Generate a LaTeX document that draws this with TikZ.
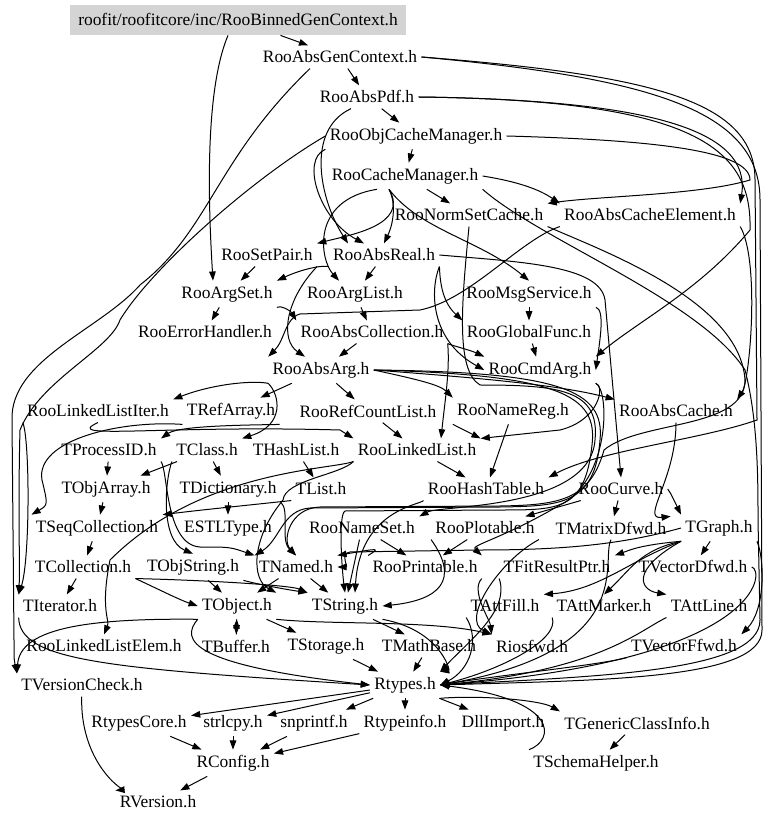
\documentclass[tikz,border=0pt]{standalone}
\usepackage{fontspec}
\setmainfont{Liberation Serif}
\usepackage{tikz}
\usetikzlibrary{arrows.meta}

\tikzset{
 hdr/.style={font=\fontsize{8.7pt}{10pt}\selectfont, inner xsep=2pt, inner ysep=2.5pt},
 rootbox/.style={hdr, fill=black!17, minimum width=168pt, minimum height=15pt},
 edge/.style={-{Triangle[length=4.6pt,width=3.3pt]}, line width=0.5pt}
}

\begin{document}
\begin{tikzpicture}[x=0.5pt,y=-0.5pt]
\useasboundingbox (0,0) rectangle (768,822);
% Reihe 1 bis 9
\node[rootbox] (root) at (238,20) {roofit/roofitcore/inc/RooBinnedGenContext.h};
\node[hdr] (gencx) at (340,57) {RooAbsGenContext.h};
\node[hdr] (abspdf) at (367,97) {RooAbsPdf.h};
\node[hdr] (objcache) at (416,136) {RooObjCacheManager.h};
\node[hdr] (cachemgr) at (405,176) {RooCacheManager.h};
\node[hdr] (normset) at (469,215) {RooNormSetCache.h};
\node[hdr] (abscelem) at (650,215) {RooAbsCacheElement.h};
\node[hdr] (setpair) at (267,255) {RooSetPair.h};
\node[hdr] (absreal) at (384,255) {RooAbsReal.h};
\node[hdr] (argset) at (227,294) {RooArgSet.h};
\node[hdr] (arglist) at (355,294) {RooArgList.h};
\node[hdr] (msgsvc) at (529,294) {RooMsgService.h};
\node[hdr] (errhandler) at (205,332) {RooErrorHandler.h};
\node[hdr] (abscoll) at (372,332) {RooAbsCollection.h};
\node[hdr] (globalfunc) at (529,332) {RooGlobalFunc.h};
\node[hdr] (absarg) at (321,370) {RooAbsArg.h};
\node[hdr] (cmdarg) at (540,370) {RooCmdArg.h};
% Reihe 10 bis 14
\node[hdr] (llistiter) at (98,411) {RooLinkedListIter.h};
\node[hdr] (trefarray) at (231,411) {TRefArray.h};
\node[hdr] (refcount) at (368,411) {RooRefCountList.h};
\node[hdr] (namereg) at (513,411) {RooNameReg.h};
\node[hdr] (abscache) at (676,411) {RooAbsCache.h};
\node[hdr] (tprocessid) at (109,450) {TProcessID.h};
\node[hdr] (tclass) at (207,450) {TClass.h};
\node[hdr] (thashlist) at (296,450) {THashList.h};
\node[hdr] (rlinkedlist) at (417,450) {RooLinkedList.h};
\node[hdr] (tobjarray) at (106,489) {TObjArray.h};
\node[hdr] (tdictionary) at (228,489) {TDictionary.h};
\node[hdr] (tlist) at (321,489) {TList.h};
\node[hdr] (hashtable) at (486,489) {RooHashTable.h};
\node[hdr] (roocurve) at (621,489) {RooCurve.h};
\node[hdr] (tseqcoll) at (97,528) {TSeqCollection.h};
\node[hdr] (estltype) at (228,528) {ESTLType.h};
\node[hdr] (nameset) at (362,528) {RooNameSet.h};
\node[hdr] (plotable) at (485,528) {RooPlotable.h};
\node[hdr] (tmatrixd) at (611,528) {TMatrixDfwd.h};
\node[hdr] (tgraph) at (719,528) {TGraph.h};
\node[hdr] (tcollection) at (83,567) {TCollection.h};
\node[hdr] (tobjstring) at (193,567) {TObjString.h};
\node[hdr] (tnamed) at (296,567) {TNamed.h};
\node[hdr] (printable) at (425,567) {RooPrintable.h};
\node[hdr] (tfitres) at (557,567) {TFitResultPtr.h};
\node[hdr] (tvectord) at (693,567) {TVectorDfwd.h};
% Reihe 15 bis 21
\node[hdr] (titerator) at (60,606) {TIterator.h};
\node[hdr] (tobject) at (237,606) {TObject.h};
\node[hdr] (tstring) at (345,606) {TString.h};
\node[hdr] (tattfill) at (505,606) {TAttFill.h};
\node[hdr] (tattmarker) at (604,606) {TAttMarker.h};
\node[hdr] (tattline) at (709,606) {TAttLine.h};
\node[hdr] (llistelem) at (104,646) {RooLinkedListElem.h};
\node[hdr] (tbuffer) at (236,646) {TBuffer.h};
\node[hdr] (tstorage) at (326,646) {TStorage.h};
\node[hdr] (tmathbase) at (429,646) {TMathBase.h};
\node[hdr] (riosfwd) at (532,646) {Riosfwd.h};
\node[hdr] (tvectorf) at (684,646) {TVectorFfwd.h};
\node[hdr] (tversion) at (82,685) {TVersionCheck.h};
\node[hdr] (rtypes) at (405,685) {Rtypes.h};
\node[hdr] (rtypescore) at (139,723) {RtypesCore.h};
\node[hdr] (strlcpy) at (233,723) {strlcpy.h};
\node[hdr] (snprintf) at (314,723) {snprintf.h};
\node[hdr] (rtypeinfo) at (405,723) {Rtypeinfo.h};
\node[hdr] (dllimport) at (503,723) {DllImport.h};
\node[hdr] (tgeneric) at (637,723) {TGenericClassInfo.h};
\node[hdr] (rconfig) at (233,763) {RConfig.h};
\node[hdr] (tschema) at (596,763) {TSchemaHelper.h};
\node[hdr] (rversion) at (158,802) {RVersion.h};

% oberer Teil
\draw[edge] (root) -- (gencx);
\draw[edge] ([xshift=-5pt]root.south) .. controls (205,90) and (208,200) .. ([xshift=-7pt]argset.north);
\draw[edge] (gencx) -- (abspdf);
\draw[edge] (abspdf) -- (objcache);
\draw[edge] (objcache) -- (cachemgr);
\draw[edge] (cachemgr) -- (normset);
\draw[edge] (cachemgr.east) .. controls (520,182) and (540,190) .. (abscelem.north west);
\draw[edge] (objcache.east) .. controls (650,140) and (750,150) .. (750,180) .. controls (700,195) and (600,196) .. (normset.north east);
\draw[edge] (abspdf.east) .. controls (650,100) and (752,130) .. (abscelem.north east);
\draw[edge] (abspdf.east) .. controls (700,100) and (752,150) .. (750,230) .. controls (700,290) and (640,320) .. (cmdarg.north east);
\draw[edge] (gencx.east) .. controls (650,75) and (755,100) .. (755,180) -- (757,420) .. controls (700,440) and (600,450) .. (hashtable.north east);
\draw[edge] (gencx.east) .. controls (650,78) and (760,110) .. (760,200) -- (762,630) .. controls (762,680) and (600,680) .. (rtypes.east);
\draw[edge] ([xshift=-15pt]gencx.south) .. controls (215,160) and (210,230) .. (140,285) .. controls (100,330) and (10,360) .. (12,420) -- (14,640) .. controls (14,660) .. (tversion.north west);
\draw[edge] (objcache.west) .. controls (250,180) and (150,270) .. (120,320) .. controls (110,350) and (40,380) .. (20,430) .. controls (18,500) and (20,570) .. (titerator.north west);
\draw[edge] ([xshift=-8pt]abspdf.south) .. controls (305,130) and (320,200) .. ([xshift=-18pt]absreal.north);
\draw[edge] (objcache.south west) .. controls (300,160) and (320,220) .. ([xshift=-10pt]absreal.north);
\draw[edge] ([xshift=-14pt]cachemgr.south) .. controls (310,200) and (320,260) .. ([xshift=-8pt]arglist.north);
\draw[edge] ([xshift=-8pt]cachemgr.south) .. controls (395,200) and (395,220) .. (absreal.north);
\draw[edge] ([xshift=-8pt]cachemgr.south) .. controls (410,225) and (350,235) .. (setpair.north east);
\draw[edge] ([xshift=-8pt]cachemgr.south) .. controls (420,230) and (480,240) .. (msgsvc.north);
\draw[edge] (normset.south) .. controls (462,300) and (455,370) .. (480,385) .. controls (560,385) and (600,390) .. (595,440) .. controls (590,510) and (440,505) .. (nameset.north east);
\draw[edge] (normset.south east) .. controls (600,250) and (740,300) .. (745,380) .. controls (745,430) and (640,420) .. (604,450) .. controls (590,500) and (560,505) .. (500,506) -- (320,507) .. controls (290,508) and (282,540) .. (tnamed.north);
\draw[edge] (abscelem.south west) .. controls (520,240) and (470,300) .. (420,310) -- (300,314) .. controls (285,318) and (285,340) .. (absarg.north west);
\draw[edge] (abscelem.south east) .. controls (760,260) and (750,380) .. (abscache.north east);
\draw[edge] (cachemgr.south east) .. controls (540,240) and (700,300) .. (745,370) .. controls (758,420) and (758,480) .. (758,520) -- (760,620) .. controls (760,672) and (600,676) .. (rtypes.east);
\draw[edge] (setpair) -- (argset);
\draw[edge] (setpair.south east) .. controls (285,300) and (280,340) .. ([xshift=-8pt]absarg.north);
\draw[edge] (absreal.south west) .. controls (320,265) and (300,270) .. (argset.north east);
\draw[edge] (absreal) -- (arglist);
\draw[edge] (absreal.south east) .. controls (440,275) and (440,300) .. (globalfunc.north west);
\draw[edge] (absreal.south east) .. controls (430,290) and (430,340) .. (cmdarg.west);
\draw[edge] (absreal.east) .. controls (520,262) and (600,265) .. (605,300) -- (roocurve.north);
\draw[edge] (argset) -- (errhandler);
\draw[edge] (argset.south east) .. controls (280,305) and (290,310) .. (abscoll.north west);
\draw[edge] (arglist) -- (abscoll);
\draw[edge] (msgsvc) -- (globalfunc);
\draw[edge] (globalfunc) -- (cmdarg);
\draw[edge] (msgsvc.south east) .. controls (605,310) and (600,340) .. (cmdarg.east);
\draw[edge] (abscoll) -- (absarg);
\draw[edge] (abscoll.south east) .. controls (450,345) and (470,350) .. (cmdarg.north west);
\draw[edge] (abscoll.south east) .. controls (450,370) and (445,400) .. ([xshift=12pt]rlinkedlist.north);
% RooAbsArg
\draw[edge] (absarg) -- (trefarray);
\draw[edge] (absarg) -- (refcount);
\draw[edge] (absarg.east) .. controls (420,380) and (440,385) .. (namereg.north west);
\draw[edge] (absarg.east) .. controls (480,378) and (560,385) .. (abscache.north west);
\draw[edge] (absarg.south west) .. controls (250,380) and (210,385) .. (llistiter.north east);
\draw[edge] (absarg.south west) .. controls (280,395) and (285,425) .. (tclass.north east);
\draw[edge] (absarg.east) .. controls (560,372) and (605,390) .. (600,440) .. controls (595,505) and (560,506) .. (500,507) -- (310,508) .. controls (282,510) and (280,540) .. (tnamed.north west);
\draw[edge] (absarg.east) .. controls (560,375) and (598,395) .. (592,445) .. controls (585,510) and (560,510) .. (500,510) -- (345,511) .. controls (338,515) and (342,570) .. (tstring.north);
\draw[edge] (cmdarg.south east) .. controls (605,385) and (600,420) .. (560,430) -- (rlinkedlist.north east);
\draw[edge] (cmdarg.south east) .. controls (610,390) and (610,480) .. (560,505) .. controls (500,540) and (470,545) .. (printable.north east);
\draw[edge] (refcount) -- (rlinkedlist);
\draw[edge] (namereg.south west) -- (rlinkedlist.north east);
\draw[edge] (namereg) -- (hashtable);
\draw[edge] (llistiter.south west) .. controls (30,440) and (30,560) .. (titerator.north west);
\draw[edge] (llistiter.south) .. controls (60,440) and (160,425) .. (340,430) -- (rlinkedlist.north west);
\draw[edge] (trefarray.south east) .. controls (260,425) and (180,425) .. (tprocessid.north east);
\draw[edge] (trefarray.south west) .. controls (120,420) and (35,440) .. (42,480) .. controls (48,505) .. (tseqcoll.north west);
\draw[edge] (abscache.south) .. controls (676,480) and (640,520) .. (tmatrixd.north east);
% mittlerer Teil
\draw[edge] (tprocessid) -- (tobjarray);
\draw[edge] (tprocessid.south east) .. controls (168,470) and (165,545) .. (200,547) .. controls (230,547) .. (tnamed.north west);
\draw[edge] (tclass) -- (tobjarray);
\draw[edge] (tclass) -- (tdictionary);
\draw[edge] (tclass.south west) .. controls (165,480) and (160,540) .. (tobjstring.north);
\draw[edge] (thashlist) -- (tlist);
\draw[edge] (rlinkedlist) -- (hashtable);
\draw[edge] (rlinkedlist.south west) .. controls (330,470) and (200,470) .. (110,560) .. controls (100,610) and (110,620) .. (llistelem.north);
\draw[edge] (rlinkedlist.south west) .. controls (340,475) and (285,480) .. (283,500) .. controls (250,540) and (252,580) .. (tobject.north east);
\draw[edge] (hashtable.south west) .. controls (420,505) and (360,510) .. ([xshift=5pt]tstring.north);
\draw[edge] (tobjarray) -- (tseqcoll);
\draw[edge] (tlist.south west) .. controls (250,505) and (200,510) .. (tseqcoll.north east);
\draw[edge] (tdictionary) -- (estltype);
\draw[edge] (tdictionary.south east) .. controls (290,510) and (280,540) .. (tnamed.north);
\draw[edge] (roocurve) -- (plotable);
\draw[edge] (roocurve.east) .. controls (670,492) .. (tgraph.north west);
\draw[edge] (roocurve) -- (tmatrixd);
\draw[edge] (tseqcoll) -- (tcollection);
\draw[edge] (nameset) -- (printable);
\draw[edge] (nameset) -- (tstring);
\draw[edge] (plotable) -- (printable);
\draw[edge] (plotable.south west) .. controls (460,580) and (440,600) .. (tstring.east);
\draw[edge] (plotable.south east) .. controls (500,560) and (460,620) .. (riosfwd.north west);
\draw[edge] (tgraph) -- (tvectord);
\draw[edge] (tgraph.south west) .. controls (640,545) and (630,550) .. (tfitres.north east);
\draw[edge] (tgraph.south west) .. controls (640,550) and (630,570) .. (tattmarker.north);
\draw[edge] (tgraph.south west) .. controls (630,560) and (600,590) .. (tattfill.north east);
\draw[edge] (tgraph.south west) .. controls (630,570) and (640,590) .. (tattline.north west);
\draw[edge] (tgraph.south east) .. controls (765,560) and (765,610) .. (tvectorf.north east);
\draw[edge] (tgraph.west) .. controls (620,545) and (560,550) .. (480,550) -- (350,552) .. controls (340,553) and (348,567) .. (tnamed.east);
% unterer Teil
\draw[edge] (tcollection) -- (titerator);
\draw[edge] (tcollection.south east) .. controls (160,590) and (180,600) .. (tobject.west);
\draw[edge] (tcollection.south east) .. controls (200,580) and (290,585) .. (tstring.north west);
\draw[edge] (tobjstring) -- (tobject);
\draw[edge] (tobjstring.south east) .. controls (260,585) and (290,590) .. (tstring.north west);
\draw[edge] (tnamed) -- (tobject);
\draw[edge] (tnamed) -- (tstring);
\draw[edge] (printable.north west) .. controls (380,548) .. (tnamed.north east);
\draw[edge] (printable.south east) .. controls (470,590) and (490,620) .. (riosfwd.north west);
\draw[edge] (tobject) -- (tbuffer);
\draw[edge] (tbuffer) -- (tobject);
\draw[edge] (tobject) -- (tstorage);
\draw[edge] (tobject.south west) .. controls (80,618) and (20,630) .. (tversion.north west);
\draw[edge] (tobject.south west) .. controls (180,640) and (190,665) .. (rtypes.west);
\draw[edge] (tobject.south east) .. controls (330,625) and (430,620) .. (riosfwd.north west);
\draw[edge] (titerator.south west) .. controls (20,660) and (100,668) .. (rtypes.west);
\draw[edge] (tstring) -- (tmathbase);
\draw[edge] (tstring.south east) .. controls (440,630) and (450,670) .. (rtypes.north east);
\draw[edge] (tstorage) -- (rtypes);
\draw[edge] (tmathbase) -- (rtypes);
\draw[edge] (tfitres.south west) .. controls (510,610) and (470,640) .. (rtypes.north east);
\draw[edge] (tattfill.south west) .. controls (480,640) and (470,670) .. (rtypes.east);
\draw[edge] (tattmarker.south west) .. controls (560,640) and (500,670) .. (rtypes.east);
\draw[edge] (tattline.south west) .. controls (640,630) and (600,670) .. (rtypes.east);
\draw[edge] (tvectorf.south west) .. controls (600,665) and (500,675) .. (rtypes.east);
\draw[edge] (tmatrixd.south) .. controls (600,560) and (640,650) .. (rtypes.east);
\draw[edge] (tvectord.east) .. controls (765,570) and (765,660) .. (rtypes.east);
\draw[edge] (tversion) .. controls (80,760) and (120,790) .. (rversion.north west);
\draw[edge] (rtypes) -- (rtypescore);
\draw[edge] (rtypes) -- (strlcpy);
\draw[edge] (rtypes) -- (snprintf);
\draw[edge] (rtypes) -- (rtypeinfo);
\draw[edge] (rtypes) -- (dllimport);
\draw[edge] (rtypes.south east) .. controls (480,695) and (540,700) .. (tgeneric.north west);
\draw[edge] (tschema.north west) .. controls (555,740) and (560,700) .. (rtypes.east);
\draw[edge] (tgeneric) -- (tschema);
\draw[edge] (rtypescore) -- (rconfig);
\draw[edge] (strlcpy) -- (rconfig);
\draw[edge] (snprintf) -- (rconfig);
\draw[edge] (rtypeinfo) -- (rconfig);
\draw[edge] (rconfig) -- (rversion);
\end{tikzpicture}
\end{document}
